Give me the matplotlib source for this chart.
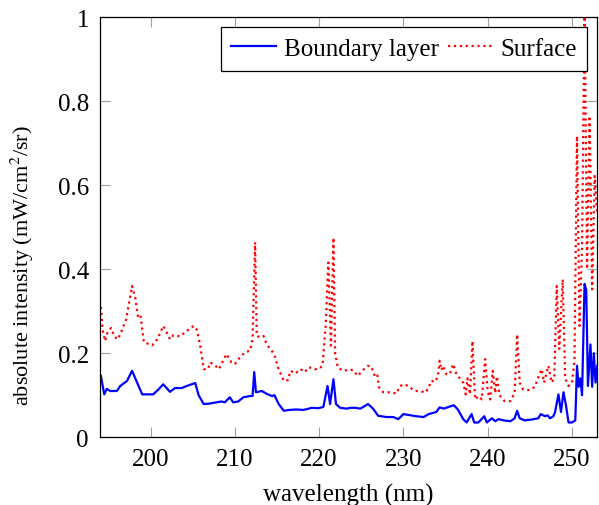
import matplotlib
matplotlib.use("Agg")
import matplotlib.pyplot as plt

plt.rcParams['font.family'] = ['Liberation Serif', 'DejaVu Serif']
plt.rcParams['mathtext.fontset'] = 'stix'

# boundary layer spectrum (wavelength nm, intensity)
bl_wl = [194.1, 194.5, 194.8, 195.2, 195.6, 196.0, 196.4, 197.2, 197.8, 198.4,
         199.0, 199.7, 200.3, 200.9, 201.5, 202.3, 202.9, 203.7, 204.3, 205.3,
         205.7, 206.3, 207.0, 207.8, 208.4, 208.8, 209.4, 209.8, 210.4, 211.0,
         211.8, 212.1, 212.3, 212.5, 213.2, 213.8, 214.4, 214.7, 215.2, 215.8,
         216.5, 217.3, 218.1, 218.6, 219.1, 219.9, 220.5, 221.0, 221.3, 221.7,
         222.0, 222.5, 223.3, 223.7, 224.3, 224.9, 225.8, 226.4, 227.0, 228.0,
         228.8, 229.4, 230.0, 230.6, 231.5, 232.4, 233.0, 233.9, 234.3, 234.8,
         235.2, 236.0, 236.5, 237.1, 237.5, 238.1, 238.4, 238.9, 239.6, 239.9,
         240.5, 240.9, 241.3, 241.9, 242.7, 243.2, 243.5, 243.8, 244.4, 245.2,
         246.0, 246.3, 246.8, 247.1, 247.4, 247.8, 248.0, 248.4, 248.7, 249.0,
         249.3, 249.6, 250.0, 250.4, 250.6, 250.8, 251.0, 251.2, 251.5, 251.7,
         251.9, 252.2, 252.4, 252.6, 252.8, 253.0]
bl_val = [0.146, 0.102, 0.115, 0.110, 0.110, 0.110, 0.122, 0.134, 0.158, 0.130,
          0.102, 0.102, 0.102, 0.113, 0.126, 0.108, 0.117, 0.117, 0.122, 0.129,
          0.100, 0.079, 0.080, 0.083, 0.085, 0.083, 0.095, 0.083, 0.085, 0.095,
          0.098, 0.098, 0.155, 0.107, 0.110, 0.103, 0.098, 0.100, 0.079, 0.063,
          0.065, 0.066, 0.065, 0.067, 0.070, 0.069, 0.072, 0.122, 0.079, 0.138,
          0.079, 0.070, 0.068, 0.070, 0.070, 0.068, 0.079, 0.068, 0.051, 0.048,
          0.048, 0.043, 0.055, 0.053, 0.050, 0.048, 0.055, 0.060, 0.071, 0.068,
          0.071, 0.076, 0.065, 0.043, 0.035, 0.055, 0.035, 0.035, 0.050, 0.035,
          0.045, 0.038, 0.043, 0.040, 0.038, 0.045, 0.063, 0.045, 0.040, 0.042,
          0.045, 0.055, 0.050, 0.052, 0.045, 0.050, 0.060, 0.102, 0.060, 0.107,
          0.075, 0.035, 0.035, 0.040, 0.170, 0.120, 0.140, 0.100, 0.365, 0.350,
          0.122, 0.221, 0.120, 0.200, 0.130, 0.170]

# surface spectrum
sf_wl = [194.1, 194.3, 194.6, 194.9, 195.3, 195.7, 196.1, 196.5, 197.1, 197.8,
         198.2, 198.5, 198.8, 199.2, 199.8, 200.2, 200.8, 201.5, 201.9, 202.3,
         202.7, 203.5, 204.1, 205.1, 205.5, 205.9, 206.3, 206.8, 207.1, 207.7,
         208.1, 208.5, 209.0, 209.6, 210.0, 210.6, 211.2, 211.8, 212.1, 212.4,
         212.6, 213.0, 213.4, 213.8, 214.4, 214.8, 215.1, 215.8, 216.3, 216.6,
         217.2, 217.8, 218.3, 218.7, 219.3, 219.5, 220.0, 220.4, 220.8, 221.0,
         221.1, 221.4, 221.7, 221.9, 222.2, 222.8, 223.4, 224.0, 224.6, 225.2,
         225.8, 226.2, 226.6, 226.9, 227.1, 227.6, 228.4, 229.2, 229.6, 230.2,
         230.8, 231.4, 232.0, 232.6, 233.0, 233.3, 233.8, 234.1, 234.3, 234.5,
         234.7, 235.1, 235.5, 235.9, 236.3, 236.7, 237.1, 237.4, 237.6, 237.9,
         238.2, 238.5, 238.9, 239.3, 239.7, 240.0, 240.3, 240.6, 240.9, 241.1,
         241.4, 242.0, 242.7, 243.2, 243.5, 243.8, 244.2, 245.0, 245.6, 246.0,
         246.4, 246.7, 247.2, 247.6, 247.9, 248.2, 248.5, 248.9, 249.2, 249.6,
         250.0, 250.3, 250.6, 250.9, 251.2, 251.5, 251.8, 252.1, 252.4, 252.7,
         253.0]
sf_val = [0.310, 0.257, 0.229, 0.250, 0.260, 0.240, 0.233, 0.250, 0.280, 0.360,
          0.330, 0.286, 0.290, 0.226, 0.222, 0.219, 0.233, 0.265, 0.250, 0.233,
          0.243, 0.240, 0.250, 0.265, 0.255, 0.217, 0.162, 0.162, 0.178, 0.170,
          0.162, 0.178, 0.198, 0.178, 0.174, 0.190, 0.202, 0.206, 0.233, 0.464,
          0.241, 0.238, 0.241, 0.220, 0.205, 0.190, 0.167, 0.134, 0.136, 0.158,
          0.152, 0.162, 0.155, 0.166, 0.165, 0.162, 0.163, 0.170, 0.273, 0.376,
          0.416, 0.218, 0.475, 0.200, 0.167, 0.158, 0.160, 0.160, 0.146, 0.160,
          0.170, 0.168, 0.146, 0.150, 0.119, 0.107, 0.107, 0.104, 0.122, 0.126,
          0.118, 0.110, 0.110, 0.106, 0.118, 0.134, 0.132, 0.146, 0.182, 0.160,
          0.170, 0.150, 0.150, 0.174, 0.150, 0.140, 0.130, 0.102, 0.140, 0.102,
          0.229, 0.090, 0.098, 0.090, 0.186, 0.110, 0.090, 0.158, 0.105, 0.145,
          0.100, 0.086, 0.086, 0.105, 0.245, 0.130, 0.114, 0.112, 0.120, 0.142,
          0.162, 0.130, 0.170, 0.130, 0.140, 0.360, 0.210, 0.376, 0.140, 0.122,
          0.130, 0.180, 0.717, 0.265, 0.450, 1.030, 0.400, 0.765, 0.352, 0.622,
          0.530]

fig = plt.figure(figsize=(5.99, 5.06), dpi=100)
ax = fig.add_axes([0.167, 0.134, 0.830, 0.830])

ax.plot(bl_wl, bl_val, color='blue', lw=1.6, label='Boundary layer')
ax.plot(sf_wl, sf_val, color='red', lw=1.6, ls=':', label='Surface')

ax.set_xlim(194.0, 253.0)
ax.set_ylim(0, 1)
ax.set_xticks([200, 210, 220, 230, 240, 250])
ax.set_yticks([0, 0.2, 0.4, 0.6, 0.8, 1])
ax.set_yticklabels(['0', '0.2', '0.4', '0.6', '0.8', '1'])
ax.tick_params(direction='in', length=7, width=0.8, color='#a0a0a0',
               top=True, right=True, labelsize=18, pad=8)
for s in ax.spines.values():
    s.set_linewidth(0.9)

ax.set_xlabel('wavelength (nm)', fontsize=18, labelpad=9)
ax.set_ylabel('absolute intensity (mW/cm$^2$/sr)', fontsize=16)
ax.yaxis.set_label_coords(-0.128, 0.41)

leg = ax.legend(loc='upper right', ncol=2, fontsize=18, frameon=True,
                fancybox=False, edgecolor='black', framealpha=1,
                handlelength=1.8, handletextpad=0.3, columnspacing=0.35,
                borderpad=0.42, borderaxespad=0.4)
leg.get_frame().set_linewidth(0.9)

fig.savefig('out.png', dpi=100)
